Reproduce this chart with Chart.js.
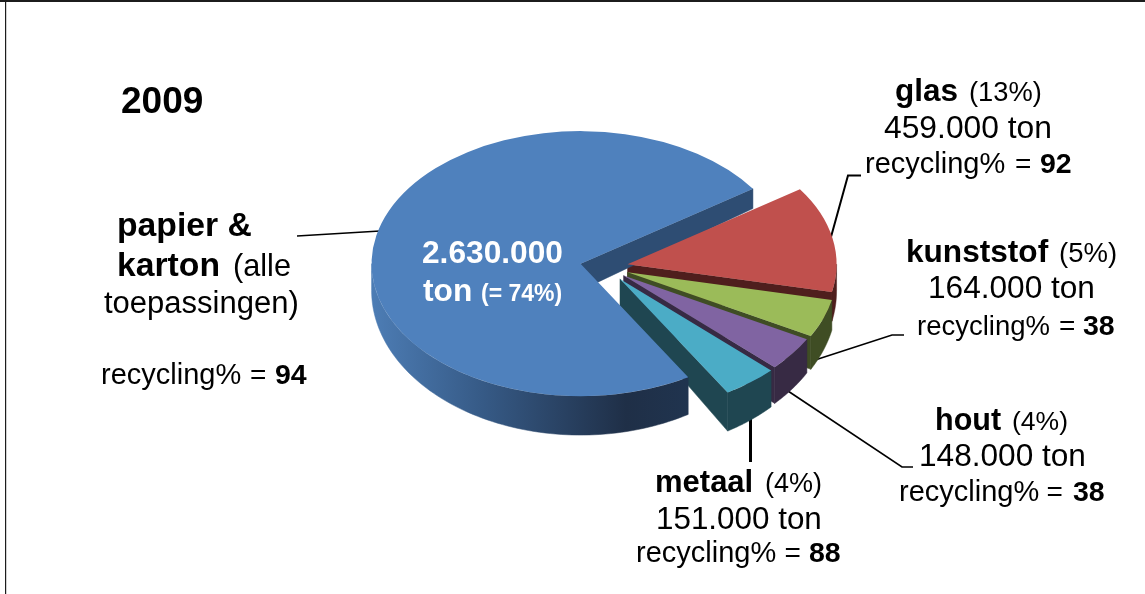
<!DOCTYPE html>
<html>
<head>
<meta charset="utf-8">
<style>html,body{margin:0;padding:0;background:#fff}canvas{display:block}</style>
<script src="https://cdn.jsdelivr.net/npm/chart.js@4"></script>
</head>
<body>
<canvas id="c" width="1145" height="594"></canvas>
<script>
// Data
const categories = ['papier & karton', 'glas', 'kunststof', 'hout', 'metaal'];
const tons = [2630000, 459000, 164000, 148000, 151000];
const topColors = ['#4f81bd', '#c0504d', '#9bbb59', '#8064a2', '#4bacc6'];
const faceColors = ['#2e4d73', '#4f1e1d', '#3f4d24', '#372a44', '#1f4651'];
const explode = [25, 23, 24, 23, 24];

// Projection of the flat pie into the tilted view
const FONT = '"Liberation Sans", Arial, sans-serif';
const pieRadius = 209, squash = 0.634, originX = 605, originY = 267;
const baseY = y => 1.092 * y + 2.5;

// Text: [x, baseline, text, bold, size, colour]
const texts = [
  [121, 113, '2009', 1, 37],
  [117, 236, 'papier &', 1, 33.7],
  [117, 276, 'karton', 1, 33.7], [233, 276, '(alle', 0, 30.7],
  [104, 313, 'toepassingen)', 0, 31],
  [101, 384, 'recycling%', 0, 29], [250, 384, '=', 0, 28], [275, 384, '94', 1, 28.5],
  [895, 101, 'glas', 1, 31.5], [969, 101, '(13%)', 0, 27.3],
  [884, 138, '459.000 ton', 0, 31.8],
  [865, 173, 'recycling%', 0, 29], [1015, 173, '=', 0, 28], [1040, 173, '92', 1, 28.5],
  [906, 262, 'kunststof', 1, 31.6], [1059, 262, '(5%)', 0, 27.5],
  [928, 298, '164.000 ton', 0, 31.6],
  [917, 335, 'recycling%', 0, 27.5], [1059, 335, '=', 0, 28], [1083, 335, '38', 1, 28.5],
  [935, 430, 'hout', 1, 30.5], [1012, 430, '(4%)', 0, 26.5],
  [919, 466, '148.000 ton', 0, 31.6],
  [899, 501, 'recycling%', 0, 29], [1046.5, 501, '=', 0, 28], [1073, 501, '38', 1, 28.5],
  [655, 492, 'metaal', 1, 31], [765, 492, '(4%)', 0, 27],
  [656, 529, '151.000 ton', 0, 31.4],
  [636, 562, 'recycling%', 0, 29], [784.5, 562, '=', 0, 28], [809, 562, '88', 1, 28.5],
  [422, 263, '2.630.000', 1, 31.7, '#ffffff'],
  [423, 301, 'ton', 1, 31.7, '#ffffff'], [481, 301, '(= 74%)', 1, 23, '#ffffff']
];
// Leader lines: [line width, x,y, x,y, ...]
const leaders = [
  [1.6, 297, 236, 380, 231],
  [2, 861, 175.5, 848, 175.5, 826, 255],
  [1.6, 904, 335, 892, 335, 812, 361],
  [1.6, 913, 467, 902, 467, 785, 389],
  [3, 750.5, 415, 750.5, 462]
];

function project(el, dist) {
  const half = (el.startAngle + el.endAngle) / 2;
  const r = el.outerRadius;
  const ax = originX + Math.cos(half) * dist;
  const ay = originY + Math.sin(half) * dist * squash;
  return { ax, ay, at: t => [ax + r * Math.cos(t), ay + r * squash * Math.sin(t)] };
}
function poly(ctx, pts, fill) {
  ctx.beginPath();
  pts.forEach((p, i) => i ? ctx.lineTo(p[0], p[1]) : ctx.moveTo(p[0], p[1]));
  ctx.closePath();
  ctx.fillStyle = fill;
  ctx.fill();
  ctx.strokeStyle = fill;
  ctx.lineWidth = 0.5;
  ctx.stroke();
}
function drawWalls(ctx, arcs) {
  const order = [1, 2, 3, 4, 0];
  order.forEach(i => {
    const el = arcs[i], g = project(el, explode[i]);
    const end = el.endAngle, a = g.at(end);
    // cut face along the closing radius, visible when it faces the viewer
    if (Math.cos(end) > 0) {
      poly(ctx, [[g.ax, g.ay], a, [a[0], baseY(a[1])], [g.ax, baseY(g.ay)]], faceColors[i]);
    }
    // outer wall on the front half of the rim
    let fill = faceColors[i];
    if (i === 0) {
      const gr = ctx.createLinearGradient(371, 0, 690, 0);
      gr.addColorStop(0, '#4d7db5');
      gr.addColorStop(0.35, '#365a86');
      gr.addColorStop(0.8, '#1f2f47');
      gr.addColorStop(1, '#20344f');
      fill = gr;
    }
    for (let n = 0; n < 2; n++) {
      const lo = Math.max(el.startAngle, n * 2 * Math.PI);
      const hi = Math.min(end, n * 2 * Math.PI + Math.PI);
      if (hi <= lo) continue;
      const topEdge = [], bottomEdge = [];
      for (let s = 0; s <= 80; s++) {
        const p = g.at(lo + (hi - lo) * s / 80);
        topEdge.push(p);
        bottomEdge.unshift([p[0], baseY(p[1])]);
      }
      poly(ctx, topEdge.concat(bottomEdge), fill);
    }
  });
}

const tiltedPie = {
  id: 'tiltedPie',
  beforeDraw(chart) {
    const ctx = chart.ctx;
    ctx.save();
    ctx.fillStyle = '#fff';
    ctx.fillRect(0, 0, chart.width, chart.height);
    ctx.fillStyle = '#1c1c1c';
    ctx.fillRect(0, 0, chart.width, 2);
    ctx.fillRect(5, 0, 1.2, chart.height);
    ctx.strokeStyle = '#000';
    ctx.lineJoin = 'miter';
    leaders.forEach(l => {
      ctx.lineWidth = l[0];
      ctx.beginPath();
      for (let i = 1; i < l.length; i += 2) {
        i === 1 ? ctx.moveTo(l[i], l[i + 1]) : ctx.lineTo(l[i], l[i + 1]);
      }
      ctx.stroke();
    });
    ctx.restore();
  },
  beforeDatasetDraw(chart, args) {
    const ctx = chart.ctx, arcs = args.meta.data;
    drawWalls(ctx, arcs);
    arcs.forEach((el, i) => {
      const half = (el.startAngle + el.endAngle) / 2;
      ctx.save();
      ctx.translate(originX, originY);
      ctx.scale(1, squash);
      ctx.translate(Math.cos(half) * explode[i] - el.x, Math.sin(half) * explode[i] - el.y);
      el.draw(ctx);
      ctx.restore();
    });
    return false;
  },
  afterDraw(chart) {
    const ctx = chart.ctx;
    ctx.save();
    ctx.textAlign = 'left';
    ctx.textBaseline = 'alphabetic';
    texts.forEach(t => {
      ctx.font = (t[3] ? 'bold ' : '') + t[4] + 'px ' + FONT;
      ctx.fillStyle = t[5] || '#000';
      ctx.fillText(t[2], t[0], t[1]);
    });
    ctx.restore();
  }
};

new Chart(document.getElementById('c'), {
  type: 'pie',
  data: {
    labels: categories,
    datasets: [{
      data: tons,
      backgroundColor: topColors,
      borderWidth: 0,
      hoverOffset: 0,
      clip: false
    }]
  },
  options: {
    responsive: false,
    animation: false,
    rotation: 149,
    radius: pieRadius,
    layout: { padding: 0 },
    events: [],
    plugins: { legend: { display: false }, tooltip: { enabled: false }, title: { display: false } }
  },
  plugins: [tiltedPie]
});
</script>
</body>
</html>
